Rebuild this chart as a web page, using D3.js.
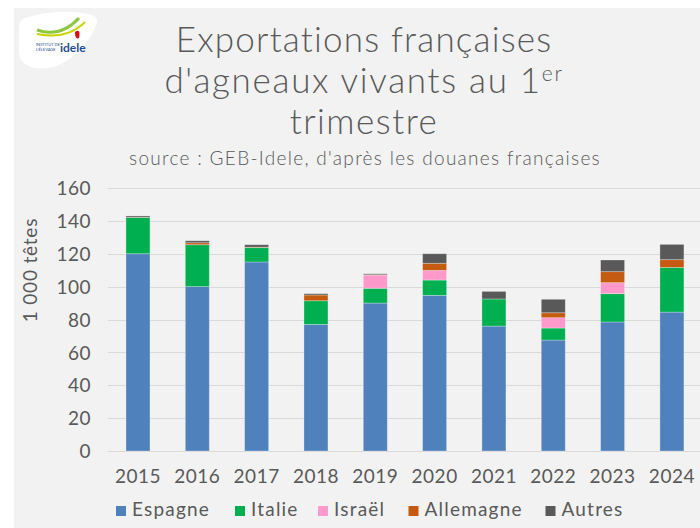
<!DOCTYPE html>
<html>
<head>
<meta charset="utf-8">
<script src="https://cdn.jsdelivr.net/npm/d3@7"></script>
<style>
  body { margin: 0; background: #fff; }
  svg { display: block; }
  text { font-family: "Lato", "DejaVu Sans", sans-serif; fill: #595959; }
  .title text { font-weight: 300; }
</style>
</head>
<body>
<svg class="chart-svg"></svg>
<script>
const WIDTH = 700;
const HEIGHT = 528;

const years = ["2015", "2016", "2017", "2018", "2019", "2020", "2021", "2022", "2023", "2024"];
const series = ["Espagne", "Italie", "Israël", "Allemagne", "Autres"];
const colors = ["#4f81bd", "#00b050", "#ff99cc", "#c55a11", "#595959"];

// milliers de têtes
const espagne = [120, 100, 115, 77, 90, 94.7, 76, 67.5, 78.5, 84.5];
const italie = [22, 25.5, 8.7, 14.4, 9, 9.3, 16.5, 7.3, 17.2, 27.2];
const israel = [0, 0, 0, 0, 8, 5.9, 0, 6.3, 6.7, 0];
const allemagne = [0.2, 1.2, 0.3, 3.5, 0.2, 4.3, 0, 3, 6.7, 4.7];
const autres = [0.8, 1.2, 1.5, 0.8, 0.6, 5.8, 4.6, 8.2, 7.1, 9.3];

const yTicks = [0, 20, 40, 60, 80, 100, 120, 140, 160];

const table = years.map((year, i) => ({
  year,
  Espagne: espagne[i],
  Italie: italie[i],
  "Israël": israel[i],
  Allemagne: allemagne[i],
  Autres: autres[i]
}));

const svg = d3
  .select(".chart-svg")
  .attr("width", WIDTH)
  .attr("height", HEIGHT);

// fond gris
svg
  .append("rect")
  .attr("x", 14)
  .attr("y", 8)
  .attr("width", WIDTH - 14)
  .attr("height", HEIGHT - 8)
  .attr("fill", "#f2f2f2");

// logo idele (simplifié)
const logo = svg.append("g").attr("transform", "translate(17, 10)");
logo
  .append("path")
  .attr("d", "M8,8 Q40,-2 72,4 Q84,6 78,18 Q66,44 40,56 Q20,62 8,54 Q2,50 2,40 L2,16 Q2,10 8,8 Z")
  .attr("fill", "#fff");
logo
  .append("path")
  .attr("d", "M20,20 Q44,28 62,8")
  .attr("fill", "none")
  .attr("stroke", "#8dc63f")
  .attr("stroke-width", 3);
logo
  .append("path")
  .attr("d", "M20,24 Q50,30 68,12")
  .attr("fill", "none")
  .attr("stroke", "#c8d400")
  .attr("stroke-width", 2);
logo
  .append("path")
  .attr("d", "M58,22 Q64,18 62,28 Q58,30 58,22 Z")
  .attr("fill", "#e30613");
logo
  .append("text")
  .attr("x", 19)
  .attr("y", 36)
  .style("font-size", "4px")
  .style("fill", "#1d4f91")
  .text("INSTITUT DE");
logo
  .append("text")
  .attr("x", 19)
  .attr("y", 41)
  .style("font-size", "4px")
  .style("fill", "#1d4f91")
  .text("L'ÉLEVAGE");
logo
  .append("text")
  .attr("x", 43)
  .attr("y", 42)
  .style("font-size", "12px")
  .style("font-weight", "bold")
  .style("fill", "#1d4f91")
  .text("idele");

// titre
const title = svg.append("g").attr("class", "title");
title
  .append("text")
  .attr("x", 364)
  .attr("y", 52)
  .attr("text-anchor", "middle")
  .style("font-size", "35px")
  .style("letter-spacing", "1.2px")
  .text("Exportations françaises");
const line2 = title
  .append("text")
  .attr("x", 364)
  .attr("y", 93)
  .attr("text-anchor", "middle")
  .style("font-size", "35px")
  .style("letter-spacing", "1.7px");
line2.append("tspan").text("d'agneaux vivants au 1");
line2
  .append("tspan")
  .attr("dy", -12)
  .style("font-size", "21px")
  .text("er");
title
  .append("text")
  .attr("x", 364)
  .attr("y", 134)
  .attr("text-anchor", "middle")
  .style("font-size", "35px")
  .style("letter-spacing", "1.5px")
  .text("trimestre");
title
  .append("text")
  .attr("x", 365)
  .attr("y", 165)
  .attr("text-anchor", "middle")
  .style("font-size", "19px")
  .style("letter-spacing", "1.3px")
  .text("source : GEB-Idele, d'après les douanes françaises");

// échelles
const xScale = d3
  .scaleBand()
  .domain(years)
  .range([108.3, 701.6])
  .paddingInner(0.5955)
  .paddingOuter(0.298);

const yScale = d3
  .scaleLinear()
  .domain([0, 160])
  .range([451, 188]);

const stack = d3.stack().keys(series);
const stacked = stack(table);

// grille
svg
  .append("g")
  .attr("class", "grid")
  .selectAll("line")
  .data(yTicks)
  .enter()
  .append("line")
  .attr("x1", 108)
  .attr("x2", WIDTH)
  .attr("y1", d => Math.round(yScale(d)) + 0.5)
  .attr("y2", d => Math.round(yScale(d)) + 0.5)
  .attr("stroke", "#d9d9d9")
  .attr("stroke-width", 1.2);

// axe y
const yAxis = d3
  .axisLeft(yScale)
  .tickValues(yTicks)
  .tickSize(0)
  .tickPadding(0);

const yAxisG = svg
  .append("g")
  .attr("class", "axis y-axis")
  .attr("transform", "translate(91, 0)")
  .call(yAxis);
yAxisG.select(".domain").remove();
yAxisG
  .selectAll(".tick text")
  .attr("fill", "#595959")
  .attr("dy", "0.35em")
  .style("font-size", "19px")
  .style("letter-spacing", "0.5px")
  .style("font-family", null);

svg
  .append("text")
  .attr("transform", "translate(37, 270) rotate(-90)")
  .attr("text-anchor", "middle")
  .style("font-size", "19px")
  .style("letter-spacing", "0.8px")
  .text("1 000 têtes");

// barres
svg
  .append("g")
  .attr("class", "bars")
  .selectAll("g")
  .data(stacked)
  .enter()
  .append("g")
  .attr("fill", (d, i) => colors[i])
  .selectAll("rect")
  .data(d => d)
  .enter()
  .append("rect")
  .attr("x", d => xScale(d.data.year))
  .attr("width", xScale.bandwidth())
  .attr("y", d => yScale(d[1]))
  .attr("height", d => Math.max(0, yScale(d[0]) - yScale(d[1])))
  .attr("stroke", "rgba(255,255,255,0.35)")
  .attr("stroke-width", d => (d[1] - d[0] > 0 ? 0.8 : 0));

// axe x
const xAxis = d3.axisBottom(xScale).tickSize(0).tickPadding(0);
const xAxisG = svg
  .append("g")
  .attr("class", "axis x-axis")
  .attr("transform", "translate(0, 451)")
  .call(xAxis);
xAxisG.select(".domain").remove();
xAxisG
  .selectAll(".tick text")
  .attr("fill", "#595959")
  .attr("y", 32)
  .attr("dy", null)
  .style("font-size", "19px")
  .style("letter-spacing", "0.5px")
  .style("font-family", null);

// légende
const legendX = [116, 235, 318, 408.5, 545.5];
const legend = svg
  .append("g")
  .attr("class", "legend")
  .selectAll("g")
  .data(series)
  .enter()
  .append("g")
  .attr("transform", (d, i) => `translate(${legendX[i]}, 506)`);
legend
  .append("rect")
  .attr("width", 10)
  .attr("height", 10)
  .attr("fill", (d, i) => colors[i]);
legend
  .append("text")
  .attr("x", 16)
  .attr("y", 10)
  .style("font-size", "19px")
  .style("letter-spacing", "1.2px")
  .text(d => d);
</script>
</body>
</html>
